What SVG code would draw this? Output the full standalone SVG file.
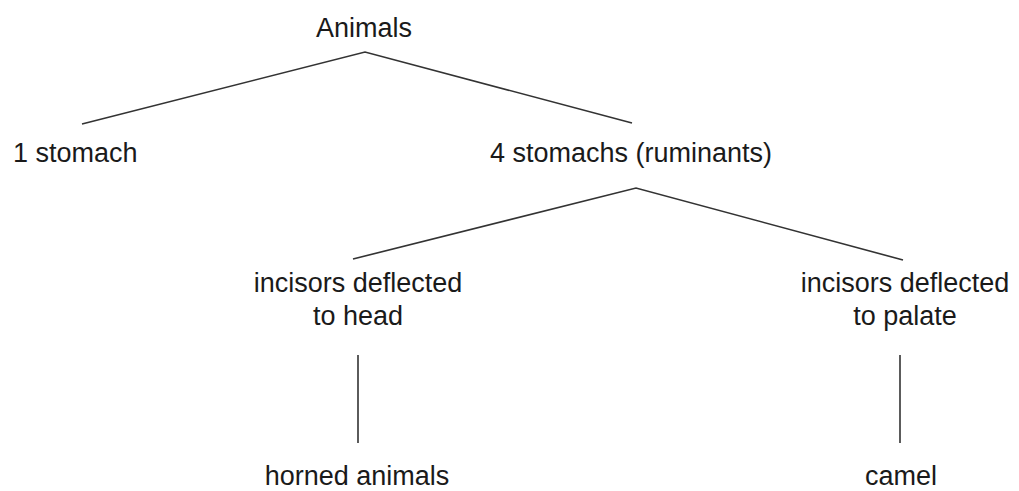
<svg xmlns="http://www.w3.org/2000/svg" width="1019" height="491" viewBox="0 0 1019 491">
<style>
text{font-family:"Liberation Sans",Arial,sans-serif;font-size:27px;fill:#1a1a1a;text-anchor:middle}
.c{stroke:#333;stroke-width:1.6;fill:none}
</style>
<rect width="1019" height="491" fill="#fff"/>
<g id="connectors">
<polyline class="c" points="82,124 365,52 632,123"/>
<polyline class="c" points="353,259 636,188 903,260"/>
<line class="c" x1="358" y1="355" x2="358" y2="443"/>
<line class="c" x1="900" y1="355" x2="900" y2="443"/>
</g>
<g id="animals"><text x="364" y="37">Animals</text></g>
<g id="one-stomach"><text x="13" y="162" style="text-anchor:start">1 stomach</text></g>
<g id="four-stomachs"><text x="631" y="162">4 stomachs (ruminants)</text></g>
<g id="incisors-head"><text x="358" y="292">incisors deflected</text><text x="358" y="325">to head</text></g>
<g id="incisors-palate"><text x="905" y="292">incisors deflected</text><text x="905" y="325">to palate</text></g>
<g id="horned"><text x="357" y="485">horned animals</text></g>
<g id="camel"><text x="901" y="485">camel</text></g>
</svg>
